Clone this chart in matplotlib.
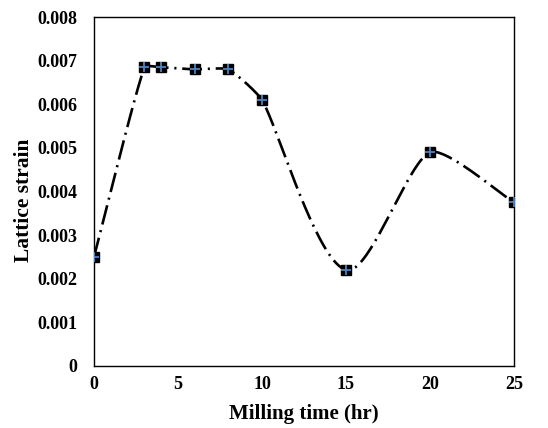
import numpy as np
import matplotlib
matplotlib.use("Agg")
import matplotlib.pyplot as plt

milling_time = [0, 3, 4, 6, 8, 10, 15, 20, 25]
lattice_strain = [0.0025, 0.00685, 0.00685, 0.0068, 0.0068, 0.0061, 0.0022, 0.0049, 0.00375]
x_ticks = [0, 5, 10, 15, 20, 25]
y_ticks = [0, 0.001, 0.002, 0.003, 0.004, 0.005, 0.006, 0.007, 0.008]
y_labels = ["0", "0.001", "0.002", "0.003", "0.004", "0.005", "0.006", "0.007", "0.008"]

plt.rcParams['font.family'] = ['Liberation Serif', 'DejaVu Serif']
plt.rcParams['font.weight'] = 'bold'

def smooth(xs, ys, sx=1.0, sy=1.0, n=40, tension=0.5):
    # Bezier smoothing with control points scaled by neighbouring segment lengths
    P = np.column_stack([np.asarray(xs, float) * sx, np.asarray(ys, float) * sy])
    m = len(P)
    tang = np.zeros_like(P)
    for i in range(m):
        a = P[max(i - 1, 0)]; b = P[min(i + 1, m - 1)]
        tang[i] = b - a
        nrm = np.hypot(*tang[i])
        if nrm > 0:
            tang[i] /= nrm
    out = []
    for i in range(m - 1):
        p1, p2 = P[i], P[i + 1]
        d = np.hypot(*(p2 - p1))
        c1 = p1 + tang[i] * d * tension / 1.5 * 0.5
        c2 = p2 - tang[i + 1] * d * tension / 1.5 * 0.5
        t = np.linspace(0, 1, n)[:, None]
        bz = (1 - t) ** 3 * p1 + 3 * (1 - t) ** 2 * t * c1 + 3 * (1 - t) * t ** 2 * c2 + t ** 3 * p2
        out.append(bz)
    out = np.vstack(out)
    return out[:, 0] / sx, out[:, 1] / sy

fig = plt.figure(figsize=(5.48, 4.28), dpi=100)
ax = fig.add_axes([0.1715, 0.145, 0.7665, 0.815])
ax.set_xlim(0, 25)
ax.set_ylim(0, 0.008)

# scale data to pixel-like units so smoothing follows the visual geometry
px_per_x = 420 / 25.0
px_per_y = 349 / 0.008
cx, cy = smooth(milling_time, lattice_strain, px_per_x, px_per_y)
ax.plot(cx, cy, color='black', lw=1.9, dashes=(7.5, 2.2, 0.8, 2.2), zorder=2)
ax.plot(milling_time, lattice_strain, linestyle='none', marker='s', markersize=7.5,
        markerfacecolor='black', markeredgecolor='black', zorder=3)
ax.plot(milling_time, lattice_strain, linestyle='none', marker='+', markersize=7.5,
        markeredgewidth=1.3, color='#4f81bd', zorder=4)

ax.set_xticks(x_ticks)
ax.set_yticks(y_ticks)
ax.set_yticklabels(y_labels)
ax.tick_params(axis='y', length=0, labelsize=13, pad=12)
ax.tick_params(axis='x', length=0, labelsize=13, pad=7)
for lab in ax.get_xticklabels() + ax.get_yticklabels():
    lab.set_fontweight('bold')
ax.set_xlabel("Milling time (hr)", fontsize=15, fontweight='bold', labelpad=8)
ax.set_ylabel("Lattice strain", fontsize=15.5, fontweight='bold')
ax.yaxis.set_label_coords(-0.142, 0.476)
for s in ax.spines.values():
    s.set_linewidth(1.0)
    s.set_clip_on(False)

fig.savefig("out.png", dpi=100)
